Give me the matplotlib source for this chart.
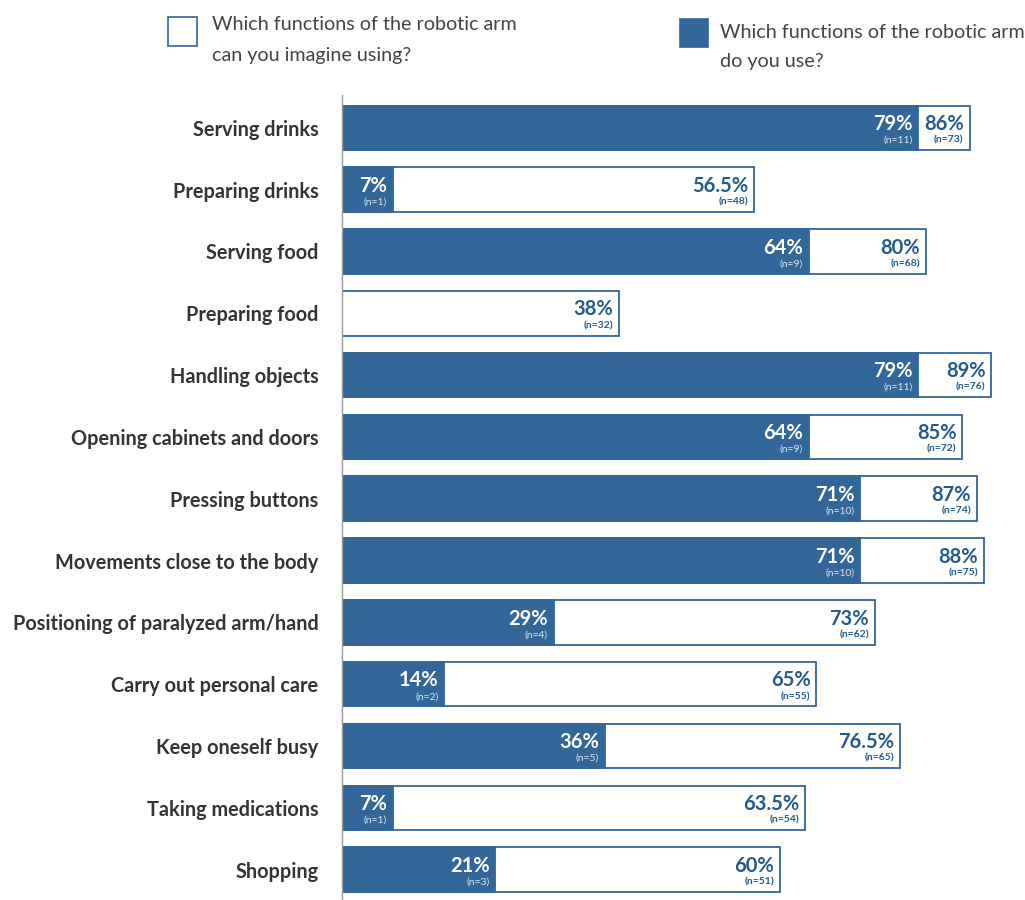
import matplotlib
matplotlib.use("Agg")
import matplotlib.pyplot as plt
from matplotlib.patches import Rectangle

functions = ["Serving drinks", "Preparing drinks", "Serving food", "Preparing food",
             "Handling objects", "Opening cabinets and doors", "Pressing buttons",
             "Movements close to the body", "Positioning of paralyzed arm/hand",
             "Carry out personal care", "Keep oneself busy", "Taking medications",
             "Shopping"]
imagine_pct = [86, 56.5, 80, 38, 89, 85, 87, 88, 73, 65, 76.5, 63.5, 60]
imagine_n = [73, 48, 68, 32, 76, 72, 74, 75, 62, 55, 65, 54, 51]
use_pct = [79, 7, 64, 0, 79, 64, 71, 71, 29, 14, 36, 7, 21]
use_n = [11, 1, 9, 0, 11, 9, 10, 10, 4, 2, 5, 1, 3]

blue = "#336699"
dark_blue = "#245a8c"
grey = "#333333"
font = "Lato"

fig = plt.figure(figsize=(10.25, 9), dpi=100)
ax = fig.add_axes([342 / 1025, 0, 683 / 1025, 805 / 900])

y = list(range(len(functions)))
ax.barh(y, imagine_pct, height=0.72, color="white", edgecolor=blue, linewidth=1.3)
ax.barh(y, use_pct, height=0.72, color=blue, edgecolor=blue, linewidth=1.3)

for i in y:
    ax.text(imagine_pct[i] - 0.8, i + 0.035, f"{imagine_pct[i]:g}%", ha="right", va="baseline",
            color=dark_blue, fontsize=14.5, fontweight="bold", family=font)
    ax.text(imagine_pct[i] - 0.8, i + 0.2, f"(n={imagine_n[i]})", ha="right", va="center",
            color=dark_blue, fontsize=7.5, fontweight="bold", family=font)
    if use_pct[i] > 0:
        ax.text(use_pct[i] - 0.8, i + 0.035, f"{use_pct[i]:g}%", ha="right", va="baseline",
                color="white", fontsize=14.5, fontweight="bold", family=font)
        ax.text(use_pct[i] - 0.8, i + 0.2, f"(n={use_n[i]})", ha="right", va="center",
                color="#dde6f0", fontsize=7.5, family=font)

ax.set_xlim(0, 93.6)
ax.set_ylim(12.49, -0.53)
ax.set_yticks(y)
ax.set_yticklabels(functions, fontsize=14.3, fontweight="bold", color=grey, family=font)
ax.tick_params(axis="y", length=0, pad=17)
ax.set_xticks([])
for s in ["top", "right", "bottom"]:
    ax.spines[s].set_visible(False)
ax.spines["left"].set_color("#9a9a9a")
ax.spines["left"].set_linewidth(1)

# legend drawn by hand at the top
fig.patches.append(Rectangle((168 / 1025, 1 - 46 / 900), 29 / 1025, 29 / 900,
                             transform=fig.transFigure, facecolor="white",
                             edgecolor=blue, linewidth=1.2))
fig.patches.append(Rectangle((680 / 1025, 1 - 47 / 900), 28 / 1025, 28 / 900,
                             transform=fig.transFigure, facecolor=blue,
                             edgecolor=blue, linewidth=1.2))
legend_lines = [(212, 25, "Which functions of the robotic arm"),
                (212, 55, "can you imagine using?"),
                (720, 32, "Which functions of the robotic arm"),
                (720, 62, "do you use?")]
for lx, ly, txt in legend_lines:
    fig.text(lx / 1025, 1 - ly / 900, txt, fontsize=14.2, color="#444444",
             family=font, va="center")

fig.savefig("out.png", dpi=100, facecolor="white")
